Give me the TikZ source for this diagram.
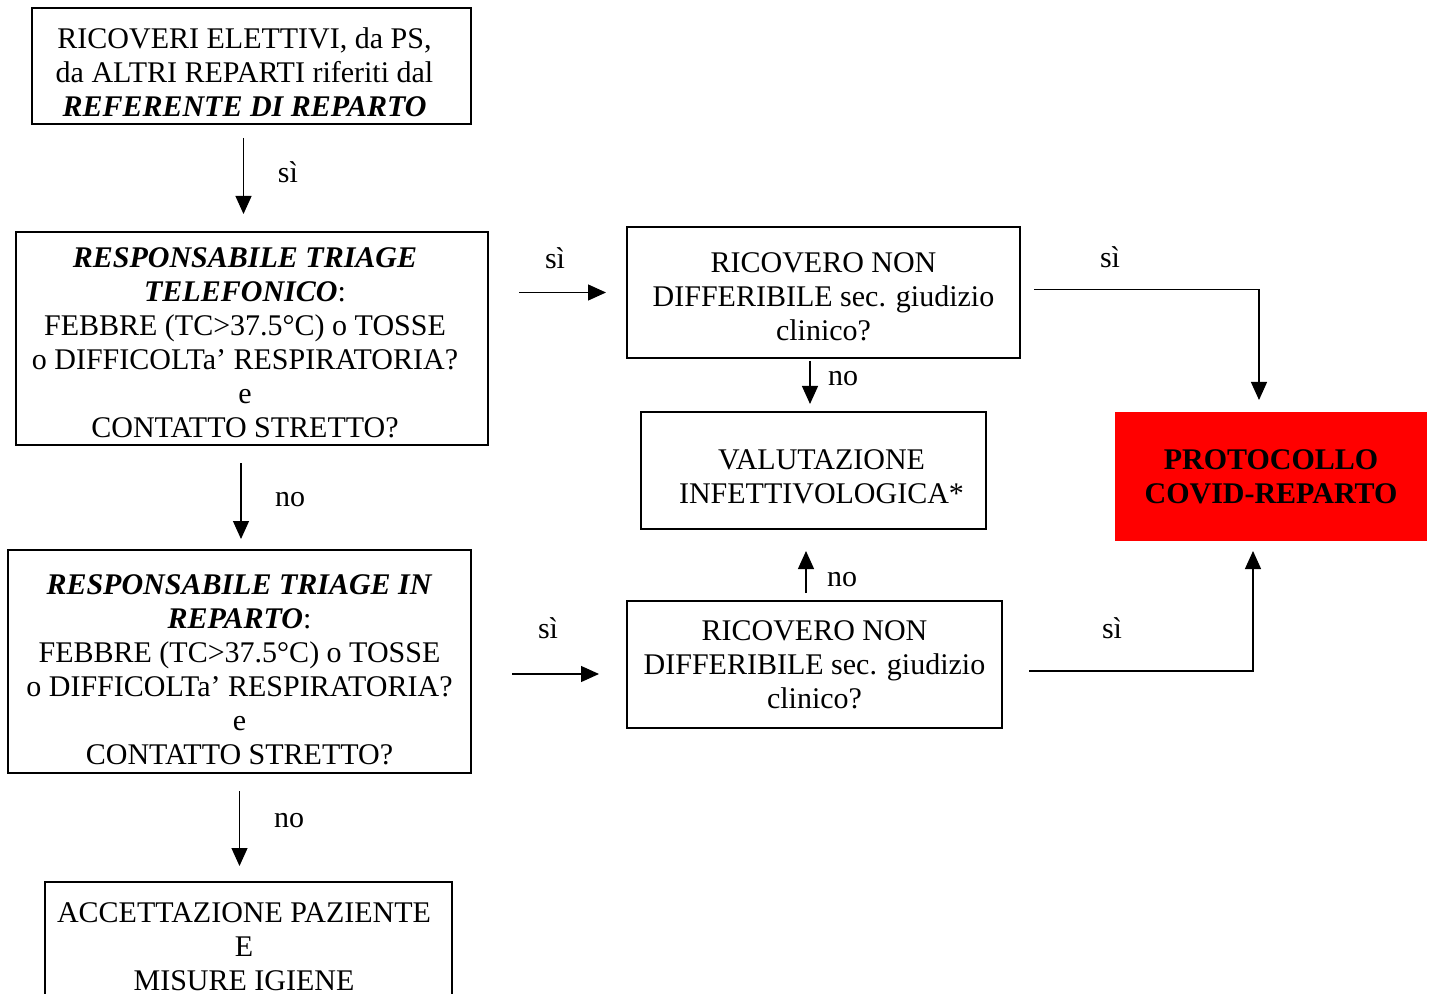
\documentclass[tikz,border=0pt]{standalone}
\usepackage{fontspec}
\setmainfont{Liberation Serif}
\usetikzlibrary{arrows.meta}

\begin{document}
\begin{tikzpicture}[x=0.5pt,y=-0.5pt,
  box/.style={draw,line width=1pt,align=center,inner sep=0pt},
  arr/.style={-{Triangle[length=9pt,width=8pt]},line width=0.6pt},
  lbl/.style={inner sep=0pt},
  nudge/.style={font={\kern#1}}]
\fontsize{15}{17}\selectfont
\def\bi#1{\textbf{\textit{#1}}}
\def\drop#1{\rule{0pt}{#1}}% taller first line pushes the text down
\useasboundingbox (0,0) rectangle (1434,994);

% left column
\node[box,nudge=-7pt,minimum width=219.5pt,minimum height=58pt] (b1) at (251.5,66)
 {\drop{16.3pt}RICOVERI ELETTIVI, da PS,\\ da ALTRI REPARTI riferiti dal\\ \bi{REFERENTE DI REPARTO}};
\node[box,nudge=-7pt,minimum width=236pt,minimum height=106.5pt] (b2) at (252,338.5)
 {\drop{14pt}\bi{RESPONSABILE TRIAGE}\\ \bi{TELEFONICO}:\\ FEBBRE (TC>37.5°C) o TOSSE\\
  o DIFFICOLTa’ RESPIRATORIA?\\ e\\ CONTATTO STRETTO?};
\node[box,minimum width=231.5pt,minimum height=111.5pt] (b3) at (239.5,661.5)
 {\drop{18pt}\bi{RESPONSABILE TRIAGE IN}\\ \bi{REPARTO}:\\ FEBBRE (TC>37.5°C) o TOSSE\\
  o DIFFICOLTa’ RESPIRATORIA?\\ e\\ CONTATTO STRETTO?};
\node[box,nudge=-4.5pt,minimum width=203.5pt,minimum height=65pt] (b4) at (248.5,947)
 {ACCETTAZIONE PAZIENTE\\ E\\ MISURE IGIENE};

% middle and right
\node[box,minimum width=196.5pt,minimum height=65.5pt] (b5) at (823.5,292.5)
 {\drop{14pt}RICOVERO NON\\ DIFFERIBILE sec. giudizio\\ clinico?};
\node[box,nudge=8pt,minimum width=172.5pt,minimum height=58.5pt] (b6) at (813.5,470.5)
 {\drop{16pt}VALUTAZIONE\\ INFETTIVOLOGICA*};
\node[box,minimum width=187.5pt,minimum height=63.5pt] (b7) at (814.5,664.5)
 {RICOVERO NON\\ DIFFERIBILE sec. giudizio\\ clinico?};
\node[box,draw=none,fill=red,font=\bfseries,minimum width=156pt,minimum height=64.5pt] (b8) at (1271,476.5)
 {PROTOCOLLO\\ COVID-REPARTO};

% labels
\node[lbl] (l1) at (288,172) {sì};
\node[lbl] (l2) at (290,500) {no};
\node[lbl] (l3) at (289,821) {no};
\node[lbl] (l4) at (555,258) {sì};
\node[lbl] (l5) at (843,379) {no};
\node[lbl] (l6) at (1110,257) {sì};
\node[lbl] (l7) at (842,580) {no};
\node[lbl] (l8) at (548,628) {sì};
\node[lbl] (l9) at (1112,628) {sì};

% connectors
\draw[arr,shorten <=6.5pt,shorten >=8.5pt] ([xshift=-4pt]b1.south) -- ([xshift=-4pt]b1.south |- b2.north);
\draw[arr,shorten <=8.5pt,shorten >=5pt] ([xshift=-5.5pt]b2.south) -- ([xshift=-5.5pt]b2.south |- b3.north);
\draw[arr,shorten <=8.5pt,shorten >=7.5pt] (b3.south) -- (b3.south |- b4.north);
\draw[arr,shorten <=15pt,shorten >=10pt] (b2.east |- b5.west) -- (b5.west);
\draw[arr,shorten <=20pt,shorten >=13.5pt] ([yshift=-4.75pt]b3.east |- b7.west) -- ([yshift=-4.75pt]b7.west);
\draw[arr,shorten <=1pt,shorten >=3.5pt] ([xshift=-1.75pt]b5.south -| b6.north) -- ([xshift=-1.75pt]b6.north);
\draw[arr,shorten <=3.5pt,shorten >=10.5pt] ([xshift=-4.25pt]b7.north) -- ([xshift=-4.25pt]b7.north |- b6.south);
\draw[arr,shorten <=6.5pt,shorten >=5.5pt] ([yshift=1.5pt]b5.east) -| ([xshift=-6pt]b8.north);
\draw[arr,shorten <=13pt,shorten >=4.5pt] ([yshift=-3.25pt]b7.east) -| ([xshift=-9pt]b8.south);

\end{tikzpicture}
\end{document}
